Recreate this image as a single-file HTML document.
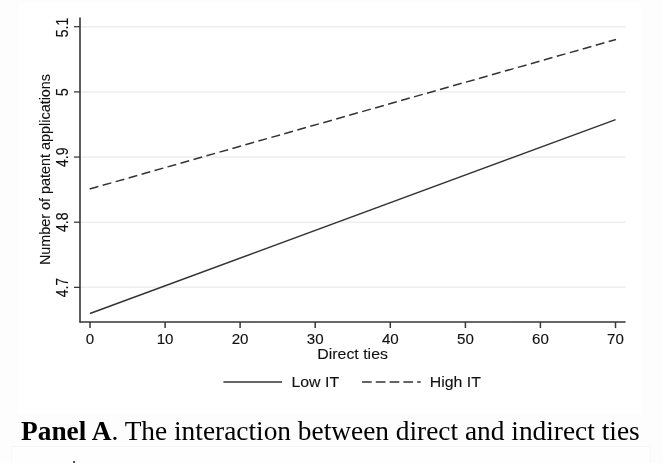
<!DOCTYPE html>
<html><head><meta charset="utf-8">
<style>
html,body{margin:0;padding:0;}
body{width:663px;height:463px;overflow:hidden;background:#fdfdfd;position:relative;font-family:"Liberation Sans",sans-serif;}
#inner{position:absolute;left:18px;top:3px;width:623px;height:411px;background:#fff;}
#next{position:absolute;left:11px;top:446px;width:639.5px;height:18px;background:#fefefe;border-top:1px solid #f6f6f6;border-left:1px solid #f8f8f8;border-right:1px solid #f8f8f8;box-sizing:border-box;}
#mark{position:absolute;left:73px;top:461px;width:2px;height:2px;background:#555;}
svg{position:absolute;left:0;top:0;will-change:transform;}
#cap{position:absolute;left:20.7px;top:414.6px;white-space:nowrap;font-family:"Liberation Serif",serif;font-size:27.36px;line-height:32px;color:#000;will-change:transform;}
</style></head><body>
<div id="inner"></div>
<div id="next"></div>
<div id="mark"></div>
<svg width="663" height="463" viewBox="0 0 663 463">
<g stroke="#eeeeee" stroke-width="1.5">
<line x1="80" y1="26.7" x2="625.7" y2="26.7"/>
<line x1="80" y1="91.9" x2="625.7" y2="91.9"/>
<line x1="80" y1="157.05" x2="625.7" y2="157.05"/>
<line x1="80" y1="222.2" x2="625.7" y2="222.2"/>
<line x1="80" y1="287.35" x2="625.7" y2="287.35"/>
</g>
<g stroke="#363636" fill="none">
<line x1="80" y1="18" x2="80" y2="322" stroke-width="1.6" stroke-linecap="round"/>
<line x1="80" y1="322" x2="625.1" y2="322" stroke-width="1.3" stroke-linecap="round"/>
<g stroke-width="1.25">
<line x1="74" y1="26.7" x2="80" y2="26.7"/>
<line x1="74" y1="91.9" x2="80" y2="91.9"/>
<line x1="74" y1="157.05" x2="80" y2="157.05"/>
<line x1="74" y1="222.2" x2="80" y2="222.2"/>
<line x1="74" y1="287.35" x2="80" y2="287.35"/>
</g>
<g stroke-width="1.5">
<line x1="90" y1="322" x2="90" y2="328"/>
<line x1="165.1" y1="322" x2="165.1" y2="328"/>
<line x1="240.1" y1="322" x2="240.1" y2="328"/>
<line x1="315.2" y1="322" x2="315.2" y2="328"/>
<line x1="390.3" y1="322" x2="390.3" y2="328"/>
<line x1="465.4" y1="322" x2="465.4" y2="328"/>
<line x1="540.4" y1="322" x2="540.4" y2="328"/>
<line x1="615.5" y1="322" x2="615.5" y2="328"/>
</g>
</g>
<g stroke="#333" stroke-width="1.5" fill="none">
<line x1="90" y1="313.5" x2="615.6" y2="119.6"/>
<line x1="89.7" y1="189" x2="616" y2="39.5" stroke-dasharray="9 4.488"/>
<line x1="223.4" y1="381.9" x2="282.1" y2="381.9"/>
<line x1="362" y1="381.9" x2="420.7" y2="381.9" stroke-dasharray="9.7 4.1"/>
</g>
<g font-family="Liberation Sans, sans-serif" font-size="14" fill="#111" stroke="#111" stroke-width="0.12" text-anchor="middle">
<g transform="scale(1.08,1)">
<text x="83.33" y="344.2">0</text>
<text x="152.87" y="344.2">10</text>
<text x="222.31" y="344.2">20</text>
<text x="291.85" y="344.2">30</text>
<text x="361.39" y="344.2">40</text>
<text x="430.93" y="344.2">50</text>
<text x="500.37" y="344.2">60</text>
<text x="569.91" y="344.2">70</text>
</g>
<g transform="scale(1.104,1)" font-size="14.4">
<text x="319.4" y="358.6">Direct ties</text>
<text x="285.6" y="387">Low IT</text>
<text x="412.4" y="387">High IT</text>
</g>
<g transform="translate(67.9,0) rotate(-90) scale(1,1.12)">
<text x="-27.5" y="0">5.1</text>
<text x="-92.2" y="0">5</text>
<text x="-157.3" y="0">4.9</text>
<text x="-222.3" y="0">4.8</text>
<text x="-287.6" y="0">4.7</text>
</g>
<g transform="translate(50.3,0) rotate(-90) scale(1,1.02)" font-size="14.4">
<text x="-169.5" y="0">Number of patent applications</text>
</g>
</g>
</svg>
<div id="cap"><b>Panel A</b>. The interaction between direct and indirect ties</div>
</body></html>
